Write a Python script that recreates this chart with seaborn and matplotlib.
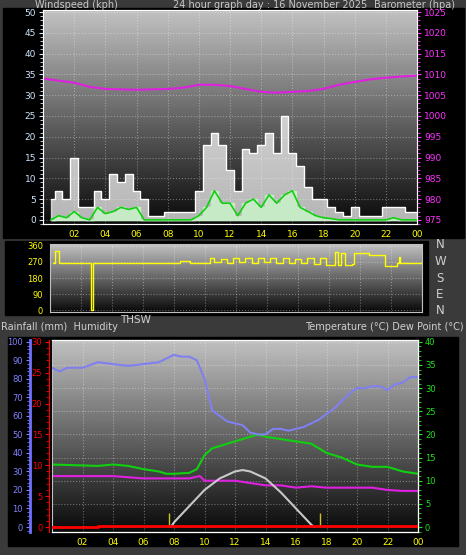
import numpy as np
import matplotlib
matplotlib.use("Agg")
from matplotlib import pyplot as plt
from matplotlib.patches import Rectangle
from matplotlib.ticker import MultipleLocator
import seaborn as sns

# wind, half-hourly
wind_t = np.arange(0.5, 24.01, 0.5)
gust = [5, 7, 5, 15, 3, 3, 7, 5, 11, 9, 11, 7, 5, 1, 1, 2, 2, 2, 2, 7, 18, 21, 18, 12,
        7, 17, 16, 18, 21, 16, 25, 16, 13, 8, 5, 5, 3, 2, 1, 3, 1, 1, 1, 3, 3, 3, 2, 2]
avg = [0, 1, 0.5, 2, 0.5, 0, 3, 1.5, 2, 3, 2.5, 3, 0, 0, 0, 0, 0, 0, 0, 1, 3, 7, 4, 4,
       1, 4, 5, 3, 6, 4, 6, 7, 3, 2, 1, 0.5, 0.3, 0, 0, 0, 0, 0, 0, 0, 0.5, 0, 0, 0]

baro_t = [0, 1, 2, 3, 4, 6, 8, 9, 10, 11, 12, 13, 14, 15, 16, 17, 18, 19, 20, 21, 22, 23, 24]
baro = [1009, 1008.5, 1008, 1007, 1006.5, 1006.3, 1006.5, 1006.8, 1007.5, 1007.5, 1007.2,
        1006.5, 1005.8, 1005.6, 1005.8, 1006, 1006.5, 1007.5, 1008.2, 1008.8, 1009.2, 1009.5, 1009.7]

dir_t = [0.2, 0.3, 0.5, 0.6, 2.6, 2.65, 2.7, 2.75, 8.2, 8.4, 9.0, 10.0, 10.3, 10.6, 11.0, 11.4,
         11.8, 12.2, 12.6, 13.0, 13.4, 13.8, 14.2, 14.6, 15.0, 15.4, 15.8, 16.2, 16.6, 17.0, 17.4,
         17.8, 18.2, 18.4, 18.6, 18.8, 19.0, 19.3, 19.5, 19.6, 20.5, 20.6, 21.5, 21.6, 22.3,
         22.4, 22.5, 22.6, 23.2, 23.3, 24.0]
wdir = [265, 330, 330, 265, 265, 0, 0, 265, 265, 275, 265, 265, 290, 270, 285, 265, 290, 270,
        295, 265, 290, 268, 292, 262, 290, 265, 288, 262, 292, 258, 290, 255, 255, 325, 255, 320,
        255, 255, 260, 320, 320, 312, 312, 250, 250, 262, 300, 265, 265, 262, 278]

hum_t = [0, 0.5, 1, 2, 3, 4, 5, 6, 7, 7.5, 8, 8.5, 9, 9.5, 10, 10.5, 11, 11.5, 12, 12.5, 13,
         13.5, 14, 14.5, 15, 15.5, 16, 16.5, 17, 17.5, 18, 18.5, 19, 19.5, 20, 20.5, 21, 21.5,
         22, 22.5, 23, 23.5, 24]
hum = [86, 84, 86, 86, 89, 88, 87, 88, 89, 91, 93, 92, 92, 90, 80, 63, 60, 57, 56, 55, 51,
       50, 50, 53, 53, 52, 53, 54, 56, 58, 61, 64, 68, 72, 75, 75, 76, 76, 74, 77, 78, 81, 81]

temp_t = [0, 2, 3, 4, 5, 6, 7, 7.5, 8, 9, 9.5, 10, 10.5, 11, 12, 13, 13.5, 14, 15, 16, 17,
          17.5, 18, 19, 20, 21, 22, 22.5, 23, 24]
temp = [13.5, 13.3, 13.2, 13.5, 13.2, 12.5, 12, 11.5, 11.5, 11.7, 12.5, 15.5, 17, 17.5, 18.5,
        19.5, 20, 19.5, 19, 18.5, 18, 17, 16, 15, 13.5, 13, 13, 12.5, 12, 11.5]

dew_t = [0, 2, 4, 6, 8, 9, 9.7, 10, 11, 12, 13, 14, 15, 16, 17, 18, 19, 20, 21, 22, 23, 24]
dew = [11, 11, 11, 10.5, 10.5, 10.5, 11, 10, 10, 10, 9.5, 9, 9, 8.5, 8.8, 8.5, 8.5, 8.5, 8.5,
       8, 7.8, 7.8]

thsw_t = [7.8, 8, 9, 10, 11, 12, 12.5, 13, 14, 15, 16, 17, 17.2]
thsw = [0, 1, 4.5, 8, 10.5, 12, 12.3, 12, 10.5, 7.5, 4, 0.5, 0]

rain_t = [0, 3, 24]
rain = [0, 0.15, 0.15]

sun_events = [7.7, 17.6]

hour_ticks = list(range(2, 25, 2))
hour_labels = ["02", "04", "06", "08", "10", "12", "14", "16", "18", "20", "22", "00"]

sns.set_style("dark")
plt.rcParams['font.family'] = ['DejaVu Sans']
W, H = 466, 555
fig = plt.figure(figsize=(W / 100, H / 100), dpi=100, facecolor="#3a3a3a")


def box(x0, y0, x1, y1):
    return [x0 / W, 1 - y1 / H, (x1 - x0) / W, (y1 - y0) / H]


for r in [(3, 8, 464, 238), (5, 241, 428, 315), (8, 337, 458, 546)]:
    x0, y0, x1, y1 = r
    fig.patches.append(Rectangle((x0 / W, 1 - y1 / H), (x1 - x0) / W, (y1 - y0) / H,
                                 transform=fig.transFigure, color="black", zorder=-10))

grad = np.linspace(1, 0, 200).reshape(-1, 1)


def setup(ax, ylim, top=0.75):
    ax.set_xlim(0, 24)
    ax.set_ylim(*ylim)
    ax.imshow(grad, extent=[0, 24, ylim[0], ylim[1]], aspect="auto", cmap="gray",
              vmin=-0.05, vmax=1 / top, zorder=0)
    ax.grid(True, color="white", alpha=0.35, linestyle=":", linewidth=0.8)
    ax.set_axisbelow(True)
    ax.set_xticks(hour_ticks)
    ax.set_xticklabels(hour_labels)
    ax.tick_params(axis="x", colors="yellow", labelsize=6.5, length=2, pad=2)
    for s in ax.spines.values():
        s.set_color("#c0c0c0")


# top panel
ax1 = fig.add_axes(box(43, 10, 417, 224))
setup(ax1, (-1, 50.5))
ax1.fill_between(wind_t, gust, step="mid", color="white", alpha=0.7, zorder=2)
ax1.step(wind_t, gust, where="mid", color="white", linewidth=0.8, zorder=2)
ax1.fill_between(wind_t, avg, step="mid", color="#c8f0c8", alpha=0.9, zorder=3)
sns.lineplot(x=wind_t, y=avg, ax=ax1, color="#10d010", linewidth=1.2, zorder=4)
ax1.set_yticks(range(0, 51, 5))
ax1.yaxis.set_minor_locator(MultipleLocator(1))
ax1.tick_params(axis="y", colors="#cfe6ff", labelsize=6.5, length=3, pad=2)
ax1.tick_params(axis="y", which="minor", colors="#cfe6ff", length=2)
ax1b = ax1.twinx()
ax1b.set_ylim(974, 1025.5)
sns.lineplot(x=baro_t, y=baro, ax=ax1b, color="#e020e0", linewidth=1.5)
ax1b.set_yticks(range(975, 1026, 5))
ax1b.yaxis.set_minor_locator(MultipleLocator(1))
ax1b.tick_params(axis="y", colors="#ff30ff", labelsize=6.5, length=3, pad=2)
ax1b.tick_params(axis="y", which="minor", colors="#ff30ff", length=2)
ax1b.set_ylabel("")

fig.text(35 / W, 1 - 5 / H, "Windspeed (kph)", color="#c8c8c8", fontsize=7, va="center")
fig.text(173 / W, 1 - 5 / H, "24 hour graph day : 16 November 2025", color="#c8c8c8",
         fontsize=7, va="center")
fig.text(374 / W, 1 - 5 / H, "Barometer (hpa)", color="#c8c8c8", fontsize=7, va="center")

# middle panel
ax2 = fig.add_axes(box(50, 244, 422, 312))
setup(ax2, (-11, 371))
ax2.set_xticklabels([])
ax2.tick_params(axis="x", length=0)
sns.lineplot(x=dir_t, y=wdir, ax=ax2, color="yellow", linewidth=1, drawstyle="steps-post")
ax2.set_yticks([0, 90, 180, 270, 360])
ax2.yaxis.set_minor_locator(MultipleLocator(15))
ax2.tick_params(axis="y", colors="yellow", labelsize=6, length=3, pad=2)
ax2.tick_params(axis="y", which="minor", colors="yellow", length=2)
for lbl, y in zip(["N", "W", "S", "E", "N"], [245, 261, 279, 295, 311]):
    fig.text(440 / W, 1 - y / H, lbl, color="#d0d0d0", fontsize=8.5, ha="center", va="center")

fig.text(120 / W, 1 - 320 / H, "THSW", color="#d0d0d0", fontsize=7.5, va="center")
fig.text(1 / W, 1 - 327 / H, "Rainfall (mm)  Humidity", color="#d0d0d0", fontsize=7, va="center")
fig.text(464 / W, 1 - 327 / H, "Temperature (°C) Dew Point (°C)", color="#d0d0d0", fontsize=7,
         va="center", ha="right")

# bottom panel
ax3 = fig.add_axes(box(52, 340, 418, 532))
setup(ax3, (-1.08, 40.4))
sns.lineplot(x=temp_t, y=temp, ax=ax3, color="#10d010", linewidth=1.5)
sns.lineplot(x=dew_t, y=dew, ax=ax3, color="#e020e0", linewidth=1.5)
sns.lineplot(x=thsw_t, y=thsw, ax=ax3, color="#c8c8c8", linewidth=1.5)
ax3.vlines(sun_events, 0, 3, color="#d0c020", linewidth=1)

ax3h = ax3.twinx()
ax3r = ax3.twinx()
ax3.yaxis.tick_right()
ax3.set_yticks(range(0, 41, 5))
ax3.yaxis.set_minor_locator(MultipleLocator(1))
ax3.tick_params(axis="y", colors="#20e020", labelsize=6, length=3, pad=2)
ax3.tick_params(axis="y", which="minor", colors="#20e020", length=2)

ax3h.yaxis.tick_left()
ax3h.set_ylim(-2.7, 101)
sns.lineplot(x=hum_t, y=hum, ax=ax3h, color="#8080f0", linewidth=1.5)
ax3h.spines["left"].set_position(("outward", 16))
ax3h.spines["left"].set_color("#7070ff")
ax3h.spines["left"].set_linewidth(2)
ax3h.set_yticks(range(0, 101, 10))
ax3h.yaxis.set_minor_locator(MultipleLocator(2))
ax3h.tick_params(axis="y", colors="#8080ff", labelsize=6, length=3, pad=2)
ax3h.tick_params(axis="y", which="minor", colors="#8080ff", length=2)
ax3h.set_ylabel("")

ax3r.yaxis.tick_left()
ax3r.set_ylim(-0.8, 30.3)
sns.lineplot(x=rain_t, y=rain, ax=ax3r, color="red", linewidth=2, drawstyle="steps-post")
ax3r.spines["left"].set_position(("outward", 2))
ax3r.spines["left"].set_color("red")
ax3r.set_yticks(range(0, 31, 5))
ax3r.yaxis.set_minor_locator(MultipleLocator(1))
ax3r.tick_params(axis="y", colors="red", labelsize=6, length=3, pad=2)
ax3r.tick_params(axis="y", which="minor", colors="red", length=2)
ax3r.set_ylabel("")

fig.savefig("out.png", dpi=100, facecolor=fig.get_facecolor())
